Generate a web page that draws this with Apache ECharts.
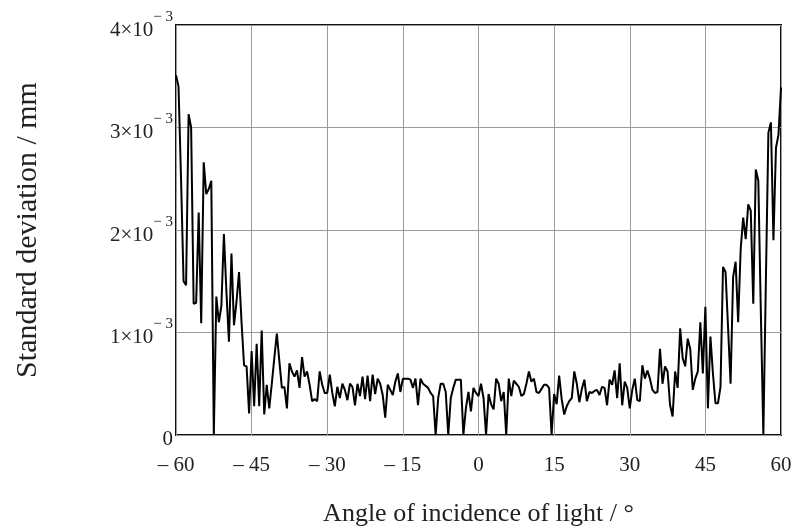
<!DOCTYPE html>
<html>
<head>
<meta charset="utf-8">
<script src="https://cdn.jsdelivr.net/npm/echarts@6/dist/echarts.min.js"></script>
<style>
html,body{margin:0;padding:0;background:#fff;}
#chart{width:800px;height:532px;}
</style>
</head>
<body>
<div id="chart"></div>
<script>
// Angle grid (degrees): sampled every 0.5° from -60 to 60
const angleStart = -60;
const angleStep = 0.5;
// Standard deviation values, in units of 10^-3 mm
const stdDevE3 = [
  3.51,3.40,2.50,1.50,1.46,3.13,3.00,1.28,1.29,2.17,
  1.09,2.66,2.35,2.40,2.48,0,1.35,1.10,1.26,1.96,
  1.40,0.91,1.77,1.07,1.30,1.59,1.10,0.68,0.67,0.21,
  0.82,0.28,0.89,0.28,1.02,0.20,0.49,0.26,0.50,0.75,
  0.99,0.72,0.46,0.47,0.26,0.70,0.62,0.57,0.63,0.46,
  0.76,0.57,0.62,0.49,0.33,0.35,0.33,0.62,0.49,0.41,
  0.41,0.59,0.41,0.28,0.47,0.36,0.50,0.44,0.34,0.50,
  0.47,0.29,0.50,0.38,0.57,0.35,0.58,0.33,0.59,0.40,
  0.55,0.50,0.39,0.17,0.49,0.44,0.39,0.52,0.60,0.42,
  0.55,0.55,0.55,0.54,0.46,0.55,0.29,0.55,0.50,0.48,
  0.46,0.41,0.38,0,0.36,0.50,0.50,0.42,0,0.36,
  0.46,0.54,0.54,0.54,0,0.26,0.42,0.23,0.46,0.41,
  0.38,0.50,0.36,0,0.40,0.30,0.25,0.55,0.50,0.33,
  0.42,0,0.55,0.38,0.53,0.50,0.47,0.38,0.40,0.50,
  0.62,0.52,0.55,0.42,0.41,0.45,0.49,0.49,0.46,0,
  0.40,0.30,0.58,0.35,0.20,0.28,0.33,0.36,0.62,0.50,
  0.32,0.45,0.54,0.33,0.42,0.41,0.43,0.44,0.39,0.47,
  0.46,0.29,0.54,0.49,0.63,0.36,0.70,0.29,0.52,0.46,
  0.26,0.44,0.55,0.34,0.33,0.68,0.55,0.63,0.55,0.44,
  0.41,0.42,0.84,0.50,0.67,0.62,0.29,0.18,0.62,0.46,
  1.04,0.75,0.67,0.94,0.84,0.44,0.55,0.62,1.10,0.60,
  1.25,0.26,0.96,0.60,0.31,0.31,0.47,1.64,1.59,1.05,
  0.50,1.54,1.69,1.10,1.81,2.12,1.91,2.25,2.19,1.28,
  2.59,2.48,1.20,0,1.50,2.95,3.05,1.90,2.80,2.93,
  3.39
];
const xTicks = [-60,-45,-30,-15,0,15,30,45,60];
const yTicks = [0,1,2,3,4];
const xTitle = 'Angle of incidence of light / °';
const yTitle = 'Standard deviation / mm';

const seriesData = stdDevE3.map((v, i) => [angleStart + i * angleStep, v]);

const serif = 'Liberation Serif, Times New Roman, serif';
const chart = echarts.init(document.getElementById('chart'), null, {renderer: 'canvas'});
chart.setOption({
  animation: false,
  backgroundColor: '#fff',
  grid: {left: 176, right: 19, top: 25, bottom: 95, show: true, borderColor: '#111', borderWidth: 2, backgroundColor: 'transparent'},
  xAxis: {
    type: 'value', min: -60, max: 60, interval: 15,
    name: xTitle, nameLocation: 'middle', nameGap: 66,
    nameTextStyle: {fontFamily: serif, fontSize: 26, color: '#222'},
    axisLine: {show: false}, axisTick: {show: false},
    axisLabel: {
      margin: 20, fontFamily: serif, fontSize: 21, color: '#222',
      formatter: v => xTicks.includes(v) ? (v < 0 ? '\u2013 ' + Math.abs(v) : String(v)) : ''
    },
    splitLine: {show: true, lineStyle: {color: '#9a9a9a', width: 1}}
  },
  yAxis: {
    type: 'value', min: 0, max: 4, interval: 1,
    name: yTitle, nameLocation: 'middle', nameGap: 133, nameRotate: 90,
    nameTextStyle: {fontFamily: serif, fontSize: 30, color: '#222'},
    axisLine: {show: false}, axisTick: {show: false},
    axisLabel: {
      margin: 3,
      formatter: v => yTicks.includes(v) ? (v === 0 ? '{z|0}' : '{b|' + v + '×10}{s|\u2212 3}') : '',
      rich: {
        z: {fontFamily: serif, fontSize: 21, color: '#222', lineHeight: 21, padding: [8, 0, 0, 0]},
        b: {fontFamily: serif, fontSize: 21, color: '#222', lineHeight: 31, verticalAlign: 'bottom', padding: [0, 0, 0, 0]},
        s: {fontFamily: serif, fontSize: 15, color: '#222', lineHeight: 31, verticalAlign: 'top', padding: [0, 0, 0, 0]}
      }
    },
    splitLine: {show: true, lineStyle: {color: '#9a9a9a', width: 1}}
  },
  series: [{
    type: 'line', data: seriesData, showSymbol: false, symbol: 'none',
    lineStyle: {color: '#000', width: 2}, z: 5
  }]
});
</script>
</body>
</html>
